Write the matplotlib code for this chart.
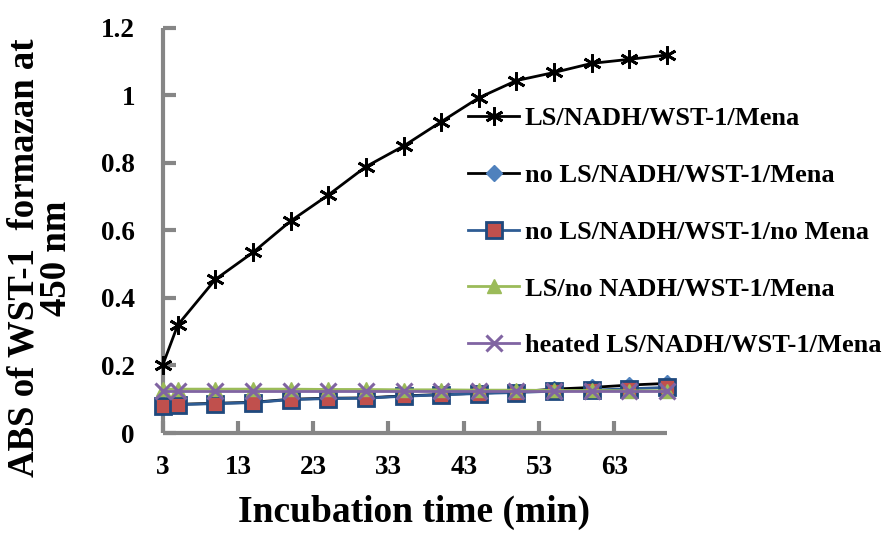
import matplotlib
matplotlib.use("Agg")
import matplotlib.pyplot as plt

# Incubation times (min)
time_min = [3, 5, 10, 15, 20, 25, 30, 35, 40, 45, 50, 55, 60, 65, 70]

# Absorbance of WST-1 formazan at 450 nm
ls_nadh_wst_mena = [0.201, 0.320, 0.455, 0.535, 0.628, 0.705, 0.789, 0.850,
                    0.922, 0.993, 1.044, 1.068, 1.095, 1.107, 1.120]
no_ls_nadh_wst_mena = [0.080, 0.085, 0.088, 0.091, 0.100, 0.103, 0.104, 0.110,
                       0.114, 0.118, 0.122, 0.130, 0.135, 0.142, 0.147]
no_ls_nadh_wst_no_mena = [0.079, 0.084, 0.087, 0.090, 0.099, 0.102, 0.103, 0.109,
                          0.113, 0.117, 0.120, 0.124, 0.127, 0.131, 0.135]
ls_no_nadh_wst_mena = [0.130, 0.130, 0.130, 0.130, 0.130, 0.129, 0.129, 0.128,
                       0.128, 0.127, 0.127, 0.126, 0.126, 0.125, 0.125]
heated_ls_nadh_wst_mena = [0.124, 0.124, 0.124, 0.124, 0.124, 0.124, 0.124, 0.124,
                           0.124, 0.124, 0.124, 0.124, 0.124, 0.124, 0.124]

series_labels = ["LS/NADH/WST-1/Mena",
                 "no LS/NADH/WST-1/Mena",
                 "no LS/NADH/WST-1/no Mena",
                 "LS/no NADH/WST-1/Mena",
                 "heated LS/NADH/WST-1/Mena"]

x_ticks = [3, 13, 23, 33, 43, 53, 63]
y_ticks = [0, 0.2, 0.4, 0.6, 0.8, 1.0, 1.2]
y_tick_labels = ["0", "0.2", "0.4", "0.6", "0.8", "1", "1.2"]

plt.rcParams["font.family"] = ["Liberation Serif", "DejaVu Serif"]
plt.rcParams["font.weight"] = "bold"

fig = plt.figure(figsize=(8.94, 5.33), dpi=100)
ax = fig.add_axes([0.182, 0.1876, 0.564, 0.760])

# series styles
common = dict(lw=2, clip_on=False)
ax.plot(time_min, ls_nadh_wst_mena, color="black",
        marker=(6, 2, 0), ms=13, mew=2, mec="black", label=series_labels[0],
        zorder=3, **common)
ax.plot(time_min, no_ls_nadh_wst_mena, color="black",
        marker="D", ms=8, mfc="#4F81BD", mec="#4F81BD", label=series_labels[1],
        zorder=3, **common)
ax.plot(time_min, no_ls_nadh_wst_no_mena, color="#2E5C94",
        marker="s", ms=11, mfc="#C0504D", mec="#1F497D", mew=2, label=series_labels[2],
        zorder=3, **common)
ax.plot(time_min, ls_no_nadh_wst_mena, color="#9BBB59",
        marker="^", ms=10, mfc="#9BBB59", mec="#9BBB59", label=series_labels[3],
        zorder=3, **common)
ax.plot(time_min, heated_ls_nadh_wst_mena, color="#8064A2",
        marker="x", ms=11, mew=2.2, mec="#8064A2", label=series_labels[4],
        zorder=3, **common)

ax.set_xlim(3, 70)
ax.set_ylim(0, 1.2)
ax.set_xticks(x_ticks)
ax.set_xticklabels([str(t) for t in x_ticks])
ax.set_yticks(y_ticks)
ax.set_yticklabels(y_tick_labels)

for side in ("top", "right"):
    ax.spines[side].set_visible(False)
for side in ("left", "bottom"):
    ax.spines[side].set_color("#868686")
    ax.spines[side].set_linewidth(3)
    ax.spines[side].set_capstyle("butt")

ax.tick_params(axis="both", direction="in", length=9, width=3, color="#868686",
               labelsize=19.5)
ax.tick_params(axis="x", pad=16)
ax.tick_params(axis="y", pad=20)
for lab in ax.get_xticklabels() + ax.get_yticklabels():
    lab.set_fontweight("bold")

# axis titles
fig.text(414 / 894, 1 - 512 / 533, "Incubation time (min)", fontsize=27,
         fontweight="bold", ha="center", va="center")
fig.text(40 / 894, 1 - 258 / 533, "ABS of WST-1  formazan at\n450 nm", fontsize=26.5,
         fontweight="bold", rotation=90, ha="center", va="center",
         multialignment="center", linespacing=0.9)

leg = ax.legend(loc="upper left", bbox_to_anchor=(468 / 894, 1 - 107 / 533),
                bbox_transform=fig.transFigure, frameon=False,
                prop={"family": ["Liberation Serif"], "weight": "bold", "size": 19},
                handlelength=1.95, handletextpad=0.2, labelspacing=1.26,
                borderpad=0, borderaxespad=0)

fig.savefig("out.png", dpi=100)
